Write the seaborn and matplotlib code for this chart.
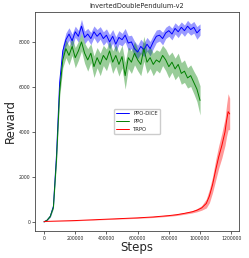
import numpy as np
import pandas as pd
import matplotlib
matplotlib.use("Agg")
import matplotlib.pyplot as plt
import seaborn as sns

sns.set_style("ticks")

# training steps (thousands) for the PPO runs
steps_k = list(range(0, 1001, 20))

dice_mean = [0, 80, 250, 700, 3000, 6200, 7600, 8100, 8350, 8050,
             8450, 8250, 8700, 8200, 8350, 8150, 8450, 8250, 8400, 8150,
             8300, 8000, 8250, 7900, 8200, 8100, 8300, 7950, 8000, 7700,
             7550, 7800, 7650, 7900, 7700, 8000, 8250, 8300, 8150, 8400,
             8500, 8350, 8600, 8450, 8650, 8500, 8700, 8550, 8650, 8400,
             8550]
dice_std = [0, 10, 30, 60, 120, 200, 250, 300, 280, 300,
            250, 260, 300, 280, 250, 270, 260, 300, 280, 300,
            280, 320, 300, 330, 300, 280, 300, 320, 300, 330,
            300, 320, 300, 300, 320, 300, 280, 260, 280, 250,
            250, 260, 250, 260, 240, 250, 260, 250, 260, 280,
            250]

ppo_mean = [0, 80, 250, 650, 2800, 5800, 7200, 7700, 7400, 7800,
            7300, 7600, 8000, 7500, 7200, 7500, 6900, 7300, 7000, 7400,
            7200, 7600, 7100, 7400, 7000, 7350, 6500, 7300, 7100, 7500,
            7200, 7000, 7700, 7100, 7300, 7000, 7200, 7100, 7400, 7200,
            6900, 7100, 6800, 7000, 6600, 6700, 6400, 6500, 6200, 5900,
            5400]
ppo_std = [0, 10, 30, 60, 150, 250, 350, 400, 420, 400,
           450, 420, 400, 450, 500, 420, 480, 450, 500, 450,
           480, 450, 500, 480, 520, 500, 600, 480, 500, 520,
           480, 500, 550, 500, 480, 500, 450, 480, 450, 480,
           500, 450, 480, 500, 480, 500, 450, 480, 500, 550,
           650]

trpo_steps_k = [0, 100, 200, 300, 400, 500, 600, 700, 800, 850,
                900, 950, 980, 1010, 1040, 1060, 1080, 1100, 1120, 1140,
                1160, 1170, 1180, 1190]
trpo_mean = [20, 40, 60, 90, 120, 150, 180, 220, 280, 320,
             380, 450, 520, 620, 820, 1150, 1650, 2300, 2900, 3400,
             4000, 4500, 4900, 4800]
trpo_std = [5, 8, 10, 12, 15, 18, 20, 25, 30, 35,
            40, 50, 70, 100, 200, 300, 350, 450, 500, 550,
            600, 700, 800, 700]

series = [
    ("PPO-DICE", steps_k, dice_mean, dice_std, "blue"),
    ("PPO", steps_k, ppo_mean, ppo_std, "green"),
    ("TRPO", trpo_steps_k, trpo_mean, trpo_std, "red"),
]

fig = plt.figure(figsize=(2.49, 2.58), dpi=100)
ax = fig.add_axes([0.1406, 0.105, 0.8194, 0.8485])

for name, xs, m, s, c in series:
    x = np.array(xs) * 1000
    m = np.array(m, dtype=float)
    s = np.array(s, dtype=float)
    sns.lineplot(x=x, y=m, color=c, lw=0.7, label=name, ax=ax)
    ax.fill_between(x, m - s, m + s, color=c, alpha=0.4, lw=0)

ax.set_xlim(-58000, 1250000)
ax.set_ylim(-400, 9330)
ax.set_xticks(range(0, 1200001, 200000))
ax.set_yticks(range(0, 8001, 2000))
ax.ticklabel_format(style="plain")
ax.tick_params(labelsize=3.3, length=2, width=0.5, pad=1.5)
for sp in ax.spines.values():
    sp.set_linewidth(0.6)
    sp.set_color("#444444")

ax.set_title("InvertedDoublePendulum-v2", fontsize=4.8, pad=3)
ax.set_xlabel("Steps", fontsize=8.5, labelpad=0)
ax.set_ylabel("Reward", fontsize=8.5, labelpad=1)
ax.legend(loc="center", fontsize=3.8, handlelength=2.5, framealpha=1)

fig.savefig("out.png", dpi=100)
